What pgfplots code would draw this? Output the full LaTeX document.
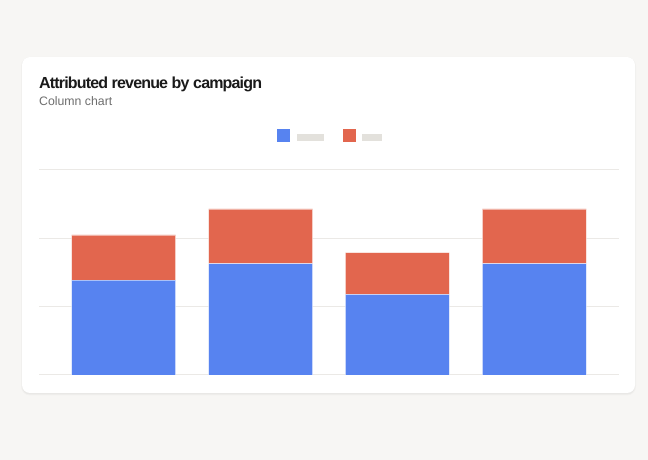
\documentclass[border=0pt]{standalone}
\usepackage{fontspec}
\setmainfont{Liberation Sans}
\newfontfamily\titlefont[LetterSpace=-5.2]{Liberation Sans}
\usepackage{pgfplots}
\pgfplotsset{compat=1.18}
\definecolor{bg}{HTML}{F7F6F4}
\definecolor{barblue}{HTML}{5783F0}
\definecolor{barred}{HTML}{E2664E}
\definecolor{skel}{HTML}{E3E1DC}
\definecolor{gridc}{HTML}{EBE9E6}
\definecolor{titlec}{HTML}{1A1A1A}
\definecolor{subc}{HTML}{6E6E6E}
\begin{document}
\begin{tikzpicture}
\useasboundingbox (0,0) rectangle (648bp,460bp);
\fill[bg] (0,0) rectangle (648bp,460bp);
% card shadow and card
\fill[black,opacity=0.025,rounded corners=9bp] (21bp,64.5bp) rectangle (636bp,403bp);
\fill[black,opacity=0.03,rounded corners=8bp] (22bp,65.5bp) rectangle (635bp,403bp);
\fill[white,rounded corners=8bp] (22bp,67bp) rectangle (635bp,403bp);
\node[anchor=base west,inner sep=0pt,text=titlec] at (39bp,371.3bp) {\titlefont\fontsize{16bp}{18bp}\selectfont\bfseries Attributed revenue by campaign};
\node[anchor=base west,inner sep=0pt,text=subc] at (39bp,354.7bp) {\fontsize{12.3bp}{14bp}\selectfont Column chart};
\begin{axis}[
  at={(39bp,85bp)}, anchor=south west,
  scale only axis, width=580bp, height=205bp,
  xmin=-0.618, xmax=3.618, ymin=0, ymax=300,
  ybar stacked, bar width=104bp,
  xtick=\empty,
  ytick={0,100,200,300}, yticklabels={},
  ymajorgrids, grid style={gridc, line width=1bp},
  axis line style={draw=none}, major tick length=0pt,
  legend columns=2,
  legend image code/.code={\fill[#1,draw=none] (0bp,-6.5bp) rectangle (13bp,6.5bp);},
  legend style={at={(0.5,1)}, anchor=center, yshift=34bp, draw=none, fill=none,
    inner sep=0pt, outer sep=0pt, column sep=0pt, row sep=0pt,
    nodes={inner sep=0pt, outer sep=0pt}},
]
\addplot[fill=barblue, draw=white, draw opacity=0.5, line width=0.8bp] coordinates {(0,139) (1,163) (2,118) (3,163)};
\addlegendentry{\kern7bp\textcolor{skel}{\raisebox{-3.5bp}{\rule{27bp}{7bp}}}\kern19bp\null}
\addplot[fill=barred, draw=white, draw opacity=0.5, line width=0.8bp] coordinates {(0,66) (1,80) (2,61) (3,80)};
\addlegendentry{\kern6bp\textcolor{skel}{\raisebox{-3.5bp}{\rule{20bp}{7bp}}}}
\end{axis}
\end{tikzpicture}
\end{document}
